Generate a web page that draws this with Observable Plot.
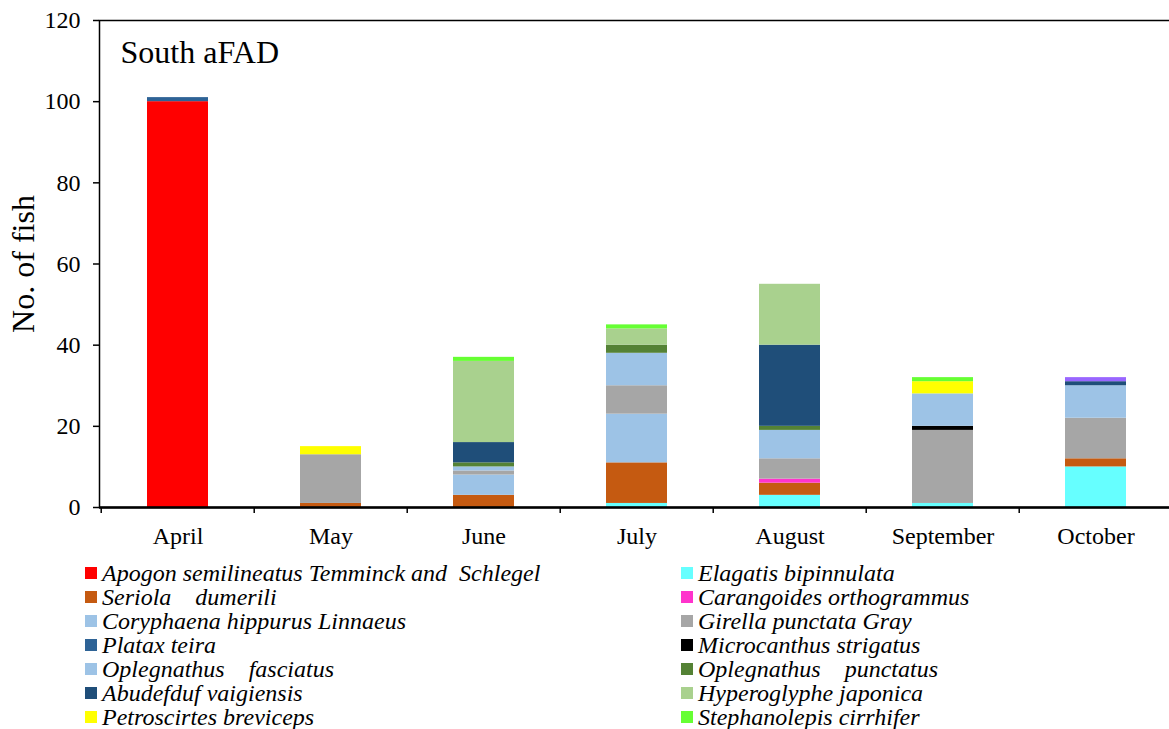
<!DOCTYPE html>
<html>
<head>
<meta charset="utf-8">
<script src="https://cdn.jsdelivr.net/npm/d3@7"></script>
<script src="https://cdn.jsdelivr.net/npm/@observablehq/plot@0.6"></script>
<style>
  body { margin: 0; background: #fff; font-family: "Liberation Serif", "Times New Roman", serif; }
  #wrap { position: relative; width: 1169px; }
  #legend { position: relative; width: 1169px; height: 174px; }
  .item { position: absolute; display: flex; align-items: center; font-style: italic; font-size: 24px; white-space: pre; line-height: 1; }
  .sw { width: 12px; height: 12px; margin-right: 5px; flex: none; }
</style>
</head>
<body>
<div id="wrap"></div>
<script>
const FONT = '"Liberation Serif", "Times New Roman", serif';
const months = ["April", "May", "June", "July", "August", "September", "October"];
const species = [
  "Apogon semilineatus Temminck and  Schlegel",
  "Elagatis bipinnulata",
  "Seriola    dumerili",
  "Carangoides orthogrammus",
  "Coryphaena hippurus Linnaeus",
  "Girella punctata Gray",
  "Platax teira",
  "Microcanthus strigatus",
  "Oplegnathus    fasciatus",
  "Oplegnathus    punctatus",
  "Abudefduf vaigiensis",
  "Hyperoglyphe japonica",
  "Petroscirtes breviceps",
  "Stephanolepis cirrhifer",
  "Other"
];
const colors = ["#FF0000", "#66FFFF", "#C55A11", "#FF33CC", "#9DC3E6", "#A6A6A6", "#2E6396", "#000000",
  "#9DC3E6", "#548235", "#1F4E79", "#A9D18E", "#FFFF00", "#66FF33", "#9966FF"];
// values per species, in month order
const apogon       = [100, 0, 0, 0, 0, 0, 0];
const elagatis     = [0, 0, 0, 1, 3, 1, 10];
const seriola      = [0, 1, 3, 10, 3, 0, 2];
const carangoides  = [0, 0, 0, 0, 1, 0, 0];
const coryphaena   = [0, 0, 5, 12, 0, 0, 0];
const girella      = [0, 12, 1, 7, 5, 18, 10];
const platax       = [1, 0, 0, 0, 0, 0, 0];
const microcanthus = [0, 0, 0, 0, 0, 1, 0];
const oplFasciatus = [0, 0, 1, 8, 7, 8, 8];
const oplPunctatus = [0, 0, 1, 2, 1, 0, 0];
const abudefduf    = [0, 0, 5, 0, 20, 0, 1];
const hyperoglyphe = [0, 0, 20, 4, 15, 0, 0];
const petroscirtes = [0, 2, 0, 0, 0, 3, 0];
const stephanolepis= [0, 0, 1, 1, 0, 1, 0];
const other        = [0, 0, 0, 0, 0, 0, 1];
const yTicks = [0, 20, 40, 60, 80, 100, 120];
const series = [apogon, elagatis, seriola, carangoides, coryphaena, girella, platax, microcanthus,
  oplFasciatus, oplPunctatus, abudefduf, hyperoglyphe, petroscirtes, stephanolepis, other];
const legendLeft = [0, 2, 4, 6, 8, 10, 12];
const legendRight = [1, 3, 5, 7, 9, 11, 13];

const data = [];
series.forEach((vals, si) => vals.forEach((v, mi) => {
  if (v > 0) data.push({month: months[mi], species: species[si], value: v});
}));

const W = 1169, H = 555, ML = 99, MR = -5, MT = 20, MB = 48;
const step = (W - ML - MR) / months.length;

const chart = Plot.plot({
  width: W, height: H,
  marginLeft: ML, marginRight: MR, marginTop: MT, marginBottom: MB,
  style: {fontFamily: FONT, fontSize: "24px", color: "black", background: "white"},
  x: {domain: months, paddingInner: 0.6, paddingOuter: 0.3, label: null},
  y: {domain: [0, 120], label: null},
  color: {domain: species, range: colors},
  marks: [
    Plot.barY(data, Plot.stackY({order: species}, {x: "month", y: "value", fill: "species"})),
    Plot.frame({stroke: "black", strokeWidth: 1.5}),
    Plot.ruleY([0], {stroke: "black", strokeWidth: 2.5}),
    Plot.ruleX(months, {x: d => d, dx: -step / 2, y1: 0, y2: 0, insetBottom: -6, stroke: "black", strokeWidth: 1.5}),
    Plot.axisY({ticks: yTicks, tickSize: 6, tickPadding: 13, fontSize: 24, label: null, strokeWidth: 1.5}),
    Plot.axisX({tickSize: 0, tickPadding: 19, fontSize: 24, label: null}),
    Plot.text(["No. of fish"], {frameAnchor: "left", textAnchor: "middle", lineAnchor: "middle", rotate: -90, dx: -76, fontSize: 32, fill: "black"}),
    Plot.text(["South aFAD"], {frameAnchor: "top-left", textAnchor: "start", lineAnchor: "middle", dx: 21, dy: 32, fontSize: 32, fill: "black"})
  ]
});
document.getElementById("wrap").appendChild(chart);

const legend = document.createElement("div");
legend.id = "legend";
function addCol(idxs, left) {
  idxs.forEach((si, r) => {
    const it = document.createElement("div");
    it.className = "item";
    it.style.left = left + "px";
    it.style.top = (18 + r * 24 - 12) + "px";
    it.style.height = "24px";
    const sw = document.createElement("span");
    sw.className = "sw";
    sw.style.background = colors[si];
    const tx = document.createElement("span");
    tx.textContent = species[si];
    it.appendChild(sw); it.appendChild(tx);
    legend.appendChild(it);
  });
}
addCol(legendLeft, 85);
addCol(legendRight, 681);
document.getElementById("wrap").appendChild(legend);
</script>
</body>
</html>
